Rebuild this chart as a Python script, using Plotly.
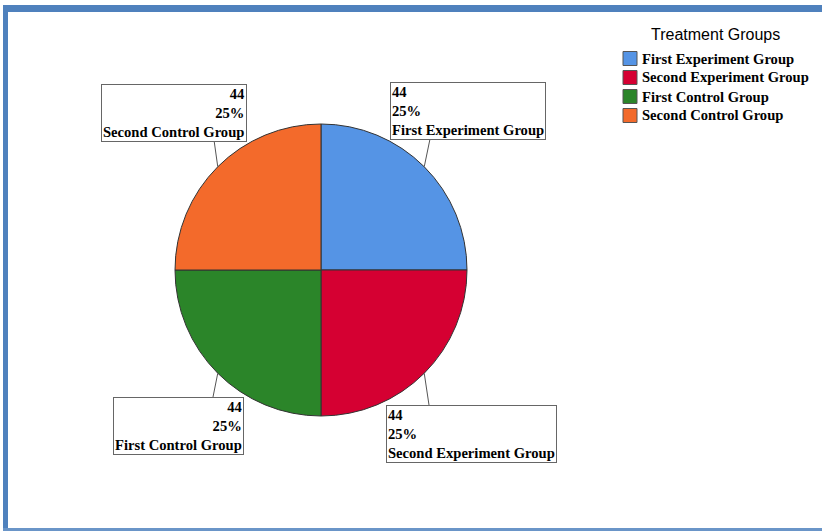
import math
import plotly.graph_objects as go

# ---- data ----
groups = ["First Experiment Group", "Second Experiment Group",
          "First Control Group", "Second Control Group"]
counts = [44, 44, 44, 44]
percents = ["25%", "25%", "25%", "25%"]
colors = ["#5594E5", "#D50032", "#2B8529", "#F36A2B"]
legend_title = "Treatment Groups"

W, H = 822, 531
def px(x):
    return x / W
def py(y):
    return 1 - y / H

# pie geometry (pixels)
CX, CY, R = 321, 270, 146

fig = go.Figure()
fig.add_trace(go.Pie(
    labels=groups, values=counts, sort=False, direction="clockwise", rotation=0,
    marker=dict(colors=colors, line=dict(color="#333333", width=1)),
    textinfo="none", hoverinfo="label+value+percent", showlegend=False,
    domain=dict(x=[px(CX - R), px(CX + R)], y=[py(CY + R), py(CY - R)]),
))

# label boxes: (left, top, align, line start at box edge)
box_pos = [
    (390, 82, "left", (430, 139)),
    (386, 405, "left", (429, 405)),
    (113, 397, "right", (213, 397)),
    (101, 84, "right", (214, 140)),
]

annotations = []
shapes = []
total = sum(counts)
cum = 0
for i, g in enumerate(groups):
    frac_mid = (cum + counts[i] / 2) / total
    cum += counts[i]
    ang = math.pi / 2 - 2 * math.pi * frac_mid
    ex = CX + R * math.cos(ang)
    ey = CY - R * math.sin(ang)
    left, top, align, (lx, ly) = box_pos[i]
    annotations.append(dict(
        x=px(left), y=py(top), xref="paper", yref="paper",
        xanchor="left", yanchor="top", showarrow=False, align=align,
        text=f"<b>{counts[i]}<br>{percents[i]}<br>{g}</b>",
        font=dict(family="Liberation Serif", size=14.6, color="black"),
        bgcolor="white", bordercolor="#666666", borderwidth=1, borderpad=1,
    ))
    shapes.append(dict(type="line", xref="paper", yref="paper",
                       x0=px(lx), y0=py(ly), x1=px(ex), y1=py(ey),
                       line=dict(color="#555555", width=1)))

# legend (drawn manually to match the compact swatch layout)
annotations.append(dict(
    x=px(715), y=py(34), xref="paper", yref="paper", xanchor="center", yanchor="middle",
    showarrow=False, text=legend_title,
    font=dict(family="Liberation Sans", size=16, color="black"),
))
row_y = [58.5, 77.5, 96.5, 115.5]
for i, g in enumerate(groups):
    yc = row_y[i]
    shapes.append(dict(type="rect", xref="paper", yref="paper",
                       x0=px(623), x1=px(637), y0=py(yc + 7), y1=py(yc - 7),
                       fillcolor=colors[i], line=dict(color="#555555", width=1)))
    annotations.append(dict(
        x=px(640), y=py(yc), xref="paper", yref="paper", xanchor="left", yanchor="middle",
        showarrow=False, text=f"<b>{g}</b>",
        font=dict(family="Liberation Serif", size=14.6, color="black"),
    ))

# frame
frame_col = "#4F81BD"
shapes += [
    dict(type="rect", xref="paper", yref="paper", x0=px(3), x1=px(8), y0=py(531), y1=py(5),
         fillcolor=frame_col, line=dict(width=0), layer="above"),
    dict(type="rect", xref="paper", yref="paper", x0=px(3), x1=px(822), y0=py(12), y1=py(5),
         fillcolor=frame_col, line=dict(width=0), layer="above"),
    dict(type="rect", xref="paper", yref="paper", x0=px(3), x1=px(822), y0=py(531), y1=py(528),
         fillcolor="#6A95C8", line=dict(width=0), layer="above"),
]

fig.update_layout(
    width=W, height=H, margin=dict(l=0, r=0, t=0, b=0),
    paper_bgcolor="white", plot_bgcolor="white",
    showlegend=False,
    annotations=annotations, shapes=shapes,
)

fig.write_html("out.html")
